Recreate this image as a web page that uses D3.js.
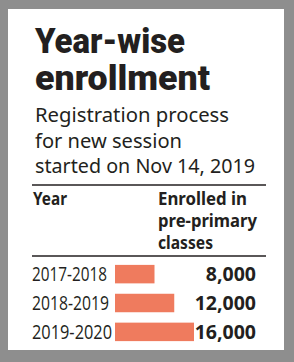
<!DOCTYPE html>
<html>
<head>
<meta charset="utf-8">
<script src="https://cdn.jsdelivr.net/npm/d3@7"></script>
<style>
  html, body { margin: 0; padding: 0; background: #8e8e8e; }
  svg { display: block; }
  text { fill: #231f20; }
</style>
</head>
<body>
<div id="root"></div>
<script>
const years = ["2017-2018", "2018-2019", "2019-2020"];
const enrolled = [8000, 12000, 16000];
const titleLines = ["Year-wise", "enrollment"];
const subtitleLines = ["Registration process", "for new session", "started on Nov 14, 2019"];
const headerLines = ["Enrolled in", "pre-primary", "classes"];

const width = 294,
  height = 362;

const svg = d3.select("#root").append("svg")
  .attr("width", width)
  .attr("height", height)
  .attr("viewBox", [0, 0, width, height]);

// white card
svg.append("rect")
  .attr("x", 8).attr("y", 9)
  .attr("width", 276).attr("height", 341)
  .attr("fill", "#ffffff");

// title
const titleW = [150, 175];
svg.append("g").selectAll("text")
  .data(titleLines)
  .join("text")
  .attr("x", 35)
  .attr("y", (d, i) => 53 + i * 37)
  .attr("textLength", (d, i) => titleW[i])
  .attr("lengthAdjust", "spacingAndGlyphs")
  .style("font-family", "Roboto, sans-serif")
  .style("font-weight", 900)
  .style("font-size", "35px")
  .text(d => d);

// subtitle
const subW = [194, 147, 220];
svg.append("g").selectAll("text")
  .data(subtitleLines)
  .join("text")
  .attr("x", 35)
  .attr("y", (d, i) => 122 + i * 25.5)
  .attr("textLength", (d, i) => subW[i])
  .attr("lengthAdjust", "spacingAndGlyphs")
  .style("font-family", "'Noto Sans', sans-serif")
  .style("font-size", "20px")
  .text(d => d);

// rules
svg.append("g").selectAll("line")
  .data([185, 256])
  .join("line")
  .attr("x1", 32).attr("x2", 266)
  .attr("y1", d => d).attr("y2", d => d)
  .attr("stroke", "#231f20")
  .attr("stroke-width", 1.6);

// column headers
const header = svg.append("g")
  .style("font-family", "'Noto Sans', sans-serif")
  .style("font-weight", 700)
  .style("font-size", "17px");

header.append("text")
  .attr("x", 33).attr("y", 205)
  .attr("textLength", 34)
  .attr("lengthAdjust", "spacingAndGlyphs")
  .text("Year");

const headW = [89, 99, 55];
header.selectAll("text.h")
  .data(headerLines)
  .join("text")
  .attr("class", "h")
  .attr("x", 158)
  .attr("y", (d, i) => 205 + i * 22)
  .attr("textLength", (d, i) => headW[i])
  .attr("lengthAdjust", "spacingAndGlyphs")
  .text(d => d);

// rows
const yBand = d3.scaleBand()
  .domain(years)
  .range([262, 344])
  .paddingInner(0.36)
  .paddingOuter(0.1);

const xScale = d3.scaleLinear()
  .domain([0, 16000])
  .range([0, 79]);

const rows = svg.append("g").selectAll("g")
  .data(years.map((y, i) => ({ year: y, value: enrolled[i] })))
  .join("g");

rows.append("rect")
  .attr("x", 115)
  .attr("y", d => yBand(d.year))
  .attr("width", d => xScale(d.value))
  .attr("height", yBand.bandwidth())
  .attr("fill", "#ef7b5e");

const yearW = [75, 77, 80];
rows.append("text")
  .attr("x", 32)
  .attr("y", d => yBand(d.year) + yBand.bandwidth() - 2)
  .attr("textLength", (d, i) => yearW[i])
  .attr("lengthAdjust", "spacingAndGlyphs")
  .style("font-family", "'Open Sans', sans-serif")
  .style("font-weight", 400)
  .style("font-size", "20px")
  .text(d => d.year);

rows.append("text")
  .attr("x", 256)
  .attr("y", d => yBand(d.year) + yBand.bandwidth() - 2)
  .attr("text-anchor", "end")
  .style("font-family", "'Noto Sans', sans-serif")
  .style("font-weight", 700)
  .style("font-size", "19.5px")
  .text(d => d3.format(",")(d.value));
</script>
</body>
</html>
